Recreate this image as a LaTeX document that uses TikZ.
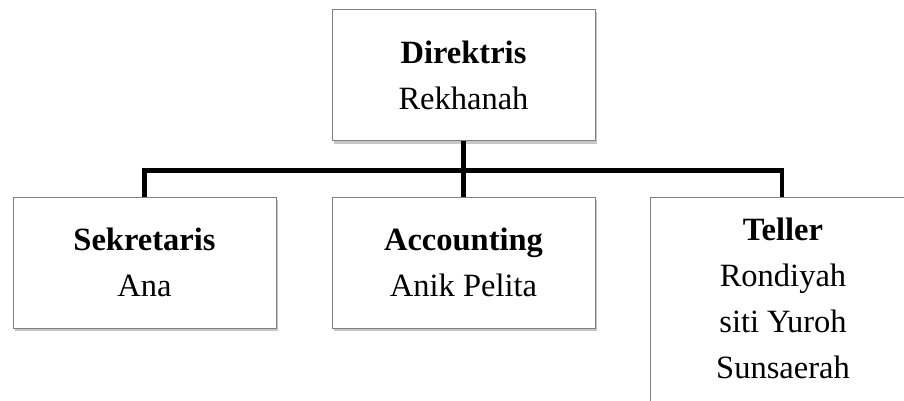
\documentclass[tikz,border=0pt]{standalone}
\usepackage{fontspec}
\setmainfont{Liberation Serif}
\usetikzlibrary{shadows}
\begin{document}
\begin{tikzpicture}[x=1pt,y=-1pt,
  orgbox/.style={draw=black!50, line width=1pt, fill=white, rectangle,
    minimum width=263pt, minimum height=131pt, inner sep=0pt, align=center,
    font=\fontsize{32.5}{46}\selectfont,
    drop shadow={shadow xshift=2pt, shadow yshift=-3pt, opacity=0.22, fill=black}},
  conn/.style={line width=4.6pt, draw=black}]
\useasboundingbox (0,0) rectangle (904,401);
\clip (0,0) rectangle (904,401);
\node[orgbox] (dir) at (463.5,75) {\textbf{Direktris}\\Rekhanah};
\node[orgbox] (sek) at (144.5,262.5) {\textbf{Sekretaris}\\Ana};
\node[orgbox] (acc) at (463.5,262.5) {\textbf{Accounting}\\Anik Pelita};
\node[orgbox, minimum height=240pt, anchor=north west] (tel) at (650,197) {};
\node[anchor=north, align=center, inner sep=0pt, font=\fontsize{32.5}{46}\selectfont] (teltext) at (783,217.5) {\textbf{Teller}\\Rondiyah\\siti Yuroh\\Sunsaerah};
\coordinate (bus) at (463.5,170.5);
\draw[conn] (dir.south) -- (acc.north);
\draw[conn] (sek.north) |- (bus) -| (tel.north);
\end{tikzpicture}
\end{document}
